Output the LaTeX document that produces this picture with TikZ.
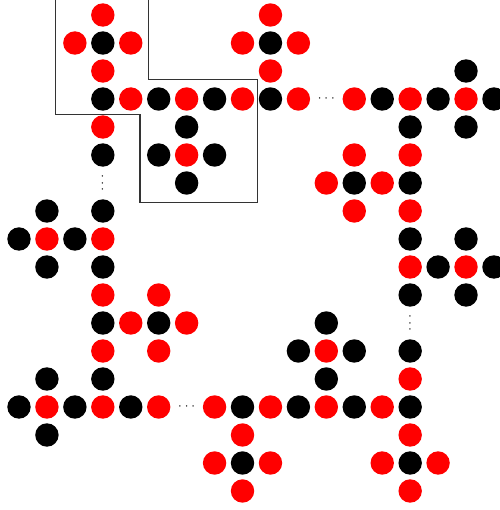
\documentclass[tikz,border=0pt]{standalone}
\definecolor{dotred}{RGB}{255, 0, 0}
\definecolor{dotblack}{RGB}{0, 0, 0}
\usetikzlibrary{positioning}
\tikzset{
	reddot/.style={circle, fill=dotred, draw=none, inner sep=0pt, minimum size=0.468cm},
	blackdot/.style={circle, fill=dotblack, draw=none, inner sep=0pt, minimum size=0.468cm},
	gap/.style={inner sep=0pt, font=\scriptsize},
	outline/.style={line width=0.6pt, draw=black!80},
}

\begin{document}
\begin{tikzpicture}[x=0.5588cm, y=-0.56cm]
		\useasboundingbox (-0.680,-0.536) rectangle (17.215,17.679);
		% red sites
		\foreach \c/\r in {3/0, 9/0, 2/1, 4/1, 8/1, 10/1, 3/2, 9/2,
			4/3, 6/3, 8/3, 10/3, 12/3, 14/3, 16/3, 3/4, 6/5, 12/5, 14/5,
			11/6, 13/6, 12/7, 14/7, 1/8, 3/8, 14/9, 16/9, 3/10, 5/10,
			4/11, 6/11, 3/12, 5/12, 11/12, 14/13,
			1/14, 3/14, 5/14, 7/14, 9/14, 11/14, 13/14, 8/15, 14/15,
			7/16, 9/16, 13/16, 15/16, 8/17, 14/17}
			\node[reddot] (c\c-\r) at (\c,\r) {};
		% black sites
		\foreach \c/\r in {3/1, 9/1, 16/2,
			3/3, 5/3, 7/3, 9/3, 13/3, 15/3, 17/3, 6/4, 14/4, 16/4,
			3/5, 5/5, 7/5, 6/6, 12/6, 14/6, 1/7, 3/7,
			0/8, 2/8, 14/8, 16/8, 1/9, 3/9, 15/9, 17/9, 14/10, 16/10,
			3/11, 5/11, 11/11, 10/12, 12/12, 14/12, 1/13, 3/13, 11/13,
			0/14, 2/14, 4/14, 8/14, 10/14, 12/14, 14/14, 1/15, 8/16, 14/16}
			\node[blackdot] (c\c-\r) at (\c,\r) {};
		% dots
		\node[gap] (hdots1) at (11,3) {$\cdots$};
		\node[gap] (hdots2) at (6,14) {$\cdots$};
		\node[gap, rotate=90] (vdots1) at (3,6) {$\cdots$};
		\node[gap, rotate=90] (vdots2) at (14,11) {$\cdots$};
		% cell outline
		\draw[outline] (1.32,-0.7) |- (4.33,3.57) |- (8.52,6.71) |- (4.65,2.29) -- (4.65,-0.7);
	\end{tikzpicture}
\end{document}
